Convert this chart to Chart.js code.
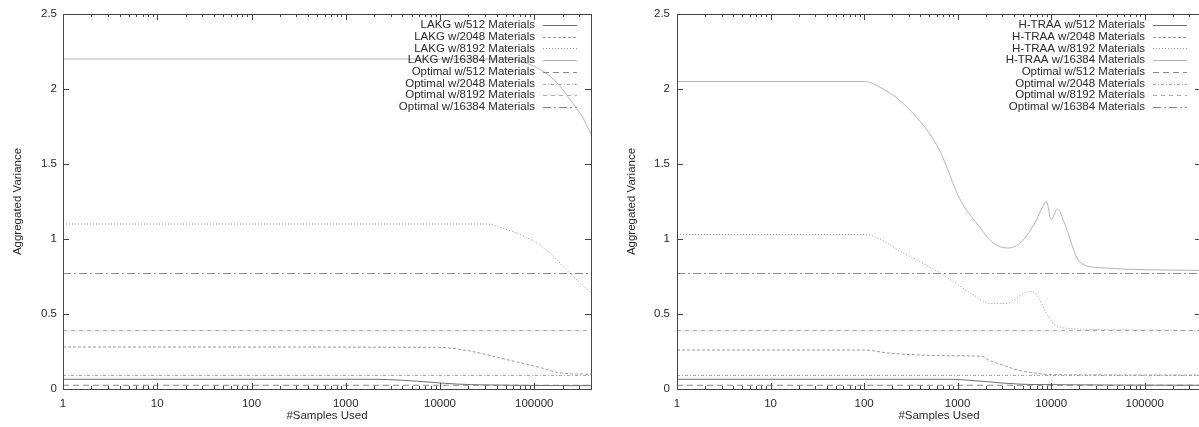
<!DOCTYPE html>
<html>
<head>
<meta charset="utf-8">
<script src="https://cdn.jsdelivr.net/npm/chart.js@4"></script>
<style>
  html, body { margin: 0; padding: 0; background: #fff; overflow: hidden; width: 1199px; height: 427px; }
  canvas { position: absolute; top: 0; }
  #lakgChart { left: 0; }
  #htraaChart { left: 600px; }
</style>
</head>
<body>
<canvas id="lakgChart" width="600" height="427"></canvas>
<canvas id="htraaChart" width="610" height="427"></canvas>
<script>
"use strict";

// x ticks (log scale) and their labels
const X_MIN = 1;
const X_MAX = 400000;
const xMajorTicks = [1, 10, 100, 1000, 10000, 100000];
const xTickLabels = ["1", "10", "100", "1000", "10000", "100000"];
const yTickLabels = ["0", "0.5", "1", "1.5", "2", "2.5"];

// series names
const materials = ["512", "2048", "8192", "16384"];

// optimal variance, same in both plots
const optimalValues = [0.025, 0.09, 0.39, 0.77];

// LAKG curves, [samples, variance]
const lakg512 = [[1, 0.065], [2000, 0.065], [4000, 0.058], [8000, 0.045], [15000, 0.033], [30000, 0.027], [400000, 0.022]];
const lakg2048 = [[1, 0.28], [9000, 0.278], [20000, 0.255], [48000, 0.2], [115000, 0.143], [190000, 0.107], [280000, 0.1], [400000, 0.099]];
const lakg8192 = [[1, 1.1], [31600, 1.1], [42700, 1.08], [95500, 0.99], [144500, 0.91], [240000, 0.77], [389000, 0.65], [400000, 0.645]];
const lakg16384 = [[1, 2.2], [50000, 2.2], [100000, 2.15], [170000, 2.05], [240000, 1.93], [320000, 1.82], [400000, 1.7]];

// H-TRAA curves, [samples, variance]
const htraa512 = [[1, 0.065], [800, 0.065], [1500, 0.056], [3000, 0.04], [6000, 0.03], [400000, 0.025]];
const htraa2048 = [[1, 0.26], [100, 0.26], [180, 0.24], [350, 0.228], [800, 0.222], [1800, 0.218], [2200, 0.19], [3000, 0.16], [4500, 0.125], [8000, 0.1], [12000, 0.095], [400000, 0.093]];
const htraa8192 = [[1, 1.03], [100, 1.03], [275, 0.9], [620, 0.78], [1380, 0.64], [2200, 0.57], [3200, 0.57], [6000, 0.65], [7000, 0.63], [9000, 0.5], [11500, 0.42], [20000, 0.4], [400000, 0.39]];
const htraa16384 = [[1, 2.05], [100, 2.05], [160, 2.0], [320, 1.85], [630, 1.6], [1070, 1.26], [1620, 1.1], [2450, 0.97], [3400, 0.94], [4600, 0.97], [6600, 1.1], [7900, 1.2], [8900, 1.25], [10000, 1.13], [11700, 1.2], [14000, 1.1], [20000, 0.85], [31600, 0.81], [400000, 0.79]];

const TEXT = "#2a2a2a";
const FONT = { family: "'Liberation Sans', Arial, sans-serif", size: 11.5 };

const styles = [
  { color: "#6e6e6e", dash: [] },
  { color: "#999", dash: [3, 2] },
  { color: "#999", dash: [1, 2] },
  { color: "#b4b4b4", dash: [] },
  { color: "#888", dash: [6, 4] },
  { color: "#aaa", dash: [3, 2, 1, 2] },
  { color: "#aaa", dash: [4, 4] },
  { color: "#888", dash: [8, 3, 2, 3] },
];

function toPoints(pairs) {
  return pairs.map(p => ({ x: p[0], y: p[1] }));
}

function buildDatasets(name, curves) {
  const sets = [];
  curves.forEach((c, i) => {
    sets.push({ label: name + " w/" + materials[i] + " Materials", data: toPoints(c) });
  });
  optimalValues.forEach((v, i) => {
    sets.push({ label: "Optimal w/" + materials[i] + " Materials", data: toPoints([[X_MIN, v], [X_MAX, v]]) });
  });
  sets.forEach((s, i) => {
    s.borderColor = styles[i].color;
    s.borderDash = styles[i].dash;
    s.borderWidth = 1;
    s.pointRadius = 0;
    s.fill = false;
    s.cubicInterpolationMode = "monotone";
  });
  return sets;
}

function xTickValues() {
  const vals = [];
  xMajorTicks.forEach(d => {
    for (let k = 1; k < 10; k++) {
      if (d * k <= X_MAX) vals.push(d * k);
    }
  });
  return vals;
}

// gnuplot style box with inward ticks
const framePlugin = {
  id: "frame",
  afterDatasetsDraw(chart) {
    const { ctx, chartArea: a, scales: { x, y } } = chart;
    ctx.save();
    ctx.strokeStyle = "#444";
    ctx.lineWidth = 1;
    ctx.beginPath();
    y.ticks.forEach(t => {
      const py = Math.round(y.getPixelForValue(t.value)) + 0.5;
      ctx.moveTo(a.left, py); ctx.lineTo(a.left + 6, py);
      ctx.moveTo(a.right, py); ctx.lineTo(a.right - 6, py);
    });
    x.ticks.forEach(t => {
      const px = Math.round(x.getPixelForValue(t.value)) + 0.5;
      const len = xMajorTicks.includes(t.value) ? 6 : 3;
      ctx.moveTo(px, a.bottom); ctx.lineTo(px, a.bottom - len);
      ctx.moveTo(px, a.top); ctx.lineTo(px, a.top + len);
    });
    ctx.stroke();
    ctx.strokeRect(Math.round(a.left) + 0.5, Math.round(a.top) + 0.5, Math.round(a.right - a.left), Math.round(a.bottom - a.top));
    ctx.restore();
  },
  afterDraw(chart) {
    // key in the top right corner, text right aligned, sample on the right
    const { ctx, chartArea: a } = chart;
    ctx.save();
    ctx.font = FONT.size + "px " + FONT.family;
    ctx.textAlign = "right";
    ctx.textBaseline = "middle";
    chart.data.datasets.forEach((ds, i) => {
      const yy = a.top + 11 + i * 11.7;
      ctx.fillStyle = TEXT;
      ctx.fillText(ds.label, a.right - 56, yy);
      ctx.strokeStyle = ds.borderColor;
      ctx.lineWidth = 1;
      ctx.setLineDash(ds.borderDash);
      ctx.beginPath();
      ctx.moveTo(a.right - 48, Math.round(yy) + 0.5);
      ctx.lineTo(a.right - 14, Math.round(yy) + 0.5);
      ctx.stroke();
      ctx.setLineDash([]);
    });
    ctx.restore();
  }
};

function makeChart(canvasId, name, curves, yAxisWidth, yTitlePad, yTickPad) {
  const ctx = document.getElementById(canvasId).getContext("2d");
  return new Chart(ctx, {
    type: "line",
    data: { datasets: buildDatasets(name, curves) },
    plugins: [framePlugin],
    options: {
      responsive: false,
      animation: false,
      devicePixelRatio: 1,
      layout: { padding: { top: 14, right: 9, left: 0, bottom: 0 } },
      plugins: { legend: { display: false }, tooltip: { enabled: false } },
      scales: {
        x: {
          type: "logarithmic",
          min: X_MIN,
          max: X_MAX,
          afterBuildTicks: s => { s.ticks = xTickValues().map(v => ({ value: v })); },
          afterFit: s => { s.height = 38; },
          grid: { display: false, drawTicks: false },
          border: { display: false },
          ticks: {
            autoSkip: false,
            maxRotation: 0,
            padding: 8,
            color: TEXT,
            font: FONT,
            callback: v => {
              const i = xMajorTicks.indexOf(v);
              return i >= 0 ? xTickLabels[i] : "";
            }
          },
          title: { display: true, text: "#Samples Used", color: TEXT, font: FONT, padding: { top: 0, bottom: 4 } }
        },
        y: {
          min: 0,
          max: 2.5,
          afterFit: s => { s.width = yAxisWidth; },
          grid: { display: false, drawTicks: false },
          border: { display: false },
          ticks: {
            stepSize: 0.5,
            padding: yTickPad,
            color: TEXT,
            font: FONT,
            callback: (v, i) => yTickLabels[i]
          },
          title: { display: true, text: "Aggregated Variance", color: TEXT, font: FONT, padding: { top: yTitlePad, bottom: 0 } }
        }
      }
    }
  });
}

makeChart("lakgChart", "LAKG", [lakg512, lakg2048, lakg8192, lakg16384], 63, 11, 6);
makeChart("htraaChart", "H-TRAA", [htraa512, htraa2048, htraa8192, htraa16384], 77, 25, 7);
</script>
</body>
</html>
